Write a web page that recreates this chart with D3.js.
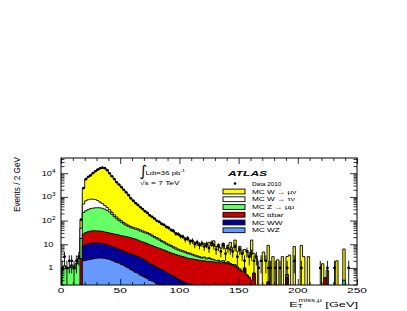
<!DOCTYPE html>
<html><head><meta charset="utf-8">
<script src="https://cdn.jsdelivr.net/npm/d3@7"></script>
<style>
body{margin:0;background:#fff}
svg{display:block}
text{font-family:"Liberation Sans",Arial,Helvetica,sans-serif;fill:#000}
</style>
</head><body>
<svg id="chart" width="407" height="311"></svg>
<script>
// ---- data: 2 GeV bins from 0 to 250 GeV (125 bins) ----
const binWidth = 2;
const xMax = 250;
const xTickLabels = ["0","50","100","150","200","250"];
const yTickValues = [1,10,100,1000,10000];

const mcWZ = [
0,0,0,0,0,0,0,0,0,
2.0,2.1,2.2,2.3,2.4,2.5,2.6,2.6,2.6,2.5,
2.4,2.3,2.1,1.9,1.7,1.6,1.4,1.3,1.1,1.0,
0.85,0.75,0.65,0.6,0.5,0.45,0.4,0.35,0.3,0.28,
0.25,0.22,0.2,0.18,
0,0,0,0,0,0,0,0,0,0,0,0,0,0,0,0,0,0,0,0,0,0,0,0,0,0,0,0,0,0,0,0,0,0,0,0,0,0,0,0,0,0,
0,0,0,0,0,0,0,0,0,0,0,0,0,0,0,0,0,0,0,0,0,0,0,0,0,0,0,0,0,0,0,0,0,0,0,0,0,0,0,0];

const mcWW = [
0,0,0,0,0,0,0,0,0,
6.5,7.4,8.3,8.7,8.8,8.8,8.6,8.4,8.0,7.5,
6.9,6.3,5.9,5.5,5.1,4.6,4.2,3.7,3.5,3.2,
3.05,2.85,2.65,2.4,2.2,1.95,1.7,1.45,1.2,1.07,
0.95,0.83,0.75,0.67,0.75,0.65,0.58,0.5,0.45,0.38,
0.33,0.3,0.27,0.24,0.22,0.2,
0,0,0,0,0,0,0,0,0,0,0,0,0,0,0,0,0,0,0,0,0,0,0,0,0,0,0,0,0,0,0,0,0,0,0,
0,0,0,0,0,0,0,0,0,0,0,0,0,0,0,0,0,0,0,0,0,0,0,0,0,0,0,0,0,0,0,0,0,0,0];

const mcTtbar = [
0,0,0,0,0,0,0,0,
2.5,
18.5,21.5,23.5,25,25.8,25.7,25.3,25,24.4,23,
22.2,21.4,20.5,19.6,19.2,18.3,17.4,17,16.4,15.8,
15.1,13.9,13.2,12,10.8,10.1,9.4,8.7,8,7.45,
6.8,6.25,5.85,5.35,4.95,4.55,4.12,3.8,3.55,3.32,
3.07,2.9,2.73,2.56,2.38,2.3,2.4,2.3,2.2,2.1,
2.0,2.0,1.9,1.9,1.85,1.8,1.7,1.8,1.6,1.7,
1.5,1.6,1.4,1.3,1.2,1.0,0.8,0.7,0.9,0.5,
0.4,0.3,0.6,0,0,0,0,0,0.26,0,
0,0,0,0,0,0,0.38,0,0,0,
0,0,0,0,0,0,0,0,0,0,
0,0,0.38,0,0,0,0,0,0,0,
0,0,0,0,0,0];

const mcZmumu = [
0.8,1.2,0.9,1.0,1.3,0.9,1.5,2.5,15,193,
229,256,284,298,308,313,309,295,272,238,
200,156,119,94,75,62,50,42,36,31,
28.5,26.5,25,22.5,20.5,18.5,17.5,15.5,13.2,11,
9.7,8.2,6.8,5.8,4.8,4.3,3.7,3,2.6,2.2,
2,1.8,1.6,1.4,1.3,1.1,0.9,0.8,0.7,0.6,
0.7,0.5,0.6,0.45,0.4,0.3,0.3,0.3,0.3,0.2,
0.2,0.15,0.1,0.15,0.1,0.1,0,0.1,0,0,
0,0,0,0,0,0,0,0,0,0,
0,0,0,0,0,0.15,0,0,0,0,
0,0,0,0,0,0,0,0,0,0,
0,0,0,0,0,0,0,0,0,0.3,
0,0,0,0,0];

const mcWtaunu = [
0,0,0,0,0,0,0,0,
30,
280,420,470,480,465,425,350,255,190,135,
90,60,40,29,22,17,14,11,9,8,
7,6,5.5,5,4.5,4,3.6,3.2,2.8,2.5,
2.2,2,1.8,1.6,1.4,1.2,1.1,1.0,0.9,0.8,
0.7,0.6,0.5,0.5,0.4,0.4,0.3,0.3,0.3,0.2,
0.2,0.2,0.2,0.2,0.1,0.1,
0,0,0,0,0,0,0,0,0,0,0,0,0,0,0,0,0,0,0,0,0,0,0,0,0,0,0,0,0,0,
0,0,0,0,0,0,0,0,0,0,0,0,0,0,0,0,0,0,0,0,0,0,0,0,0,0,0,0,0,0];

const mcWmunu = [
0,0,0,0,0,0,0,0,
60,
1800,4820,6240,7200,9200,11230,13300,15400,16480,16060,
13140,9710,7275,5425,4058,3183,2501,1917,1478,1136,
793,628,512,405,330,263,216,174,142,115,
97,81,69,59,51,45,38,32,27,23,
20,17,14.7,13.1,11.6,10.3,9.2,8.5,7.7,7,
6.7,8.1,5.4,9.3,6.6,11.7,5.9,7.8,5,8.9,
4.7,7.1,10.45,5.6,13.65,3.9,7.1,3.3,5,5,
2.6,14.7,3.4,2.5,0,0,4.7,2,8.7,0,
3,0,2.2,0,3,0,2.5,3.5,0,8,
0,0,9,3,0,3,0,0,0,0,
0,1.5,0,0.8,0,0,0,2,0,0,
6,0,0,0,0,0];

const data2010 = [
1,3,1,2,2,1,2,3,110,2350,
5600,7100,8100,10200,12100,14200,16100,17100,16400,13400,
9900,7450,5650,4150,3320,2580,2010,1560,1180,870,
690,550,460,365,305,245,210,165,142,120,
98,88,72,66,54,49,40,37,28,27,
22,21,16,18,13,14,10,12,9,11,
8,10,7,11,9,6,8,5,9,4,
7,6,5,8,3,6,4,2,5,3,
4,2,3,1,2,0,2,1,1,0,
1,0,1,0,0,1,0,0,2,0,
0,1,0,0,0,0,0,0,0,1,
0,0,1,0,0,1,0,0,0,0,
0,1,0,0,0];

// stacking order: bottom -> top
const seriesNames = ["MC WZ","MC WW","MC ttbar","MC Z \u2192 \u03bc\u03bc","MC W \u2192 \u03c4\u03bd","MC W \u2192 \u03bc\u03bd"];
const seriesValues = [mcWZ, mcWW, mcTtbar, mcZmumu, mcWtaunu, mcWmunu];
const seriesColors = ["#6699ff","#000099","#cc0000","#66ff66","#ffffff","#ffff00"];
const legendOrder = [5,4,3,2,1,0];

// ---- layout ----
const svg = d3.select("#chart");
const M = {l:61, r:357, t:158, b:285};
const x = d3.scaleLinear().domain([0, xMax]).range([M.l, M.r]);
const y = d3.scaleLog().domain([0.19, 44000]).range([M.b, M.t]).clamp(true);
const nBins = data2010.length;
const edges = d3.range(nBins + 1).map(i => i * binWidth);

svg.append("rect").attr("width",407).attr("height",311).attr("fill","#fff");
svg.append("clipPath").attr("id","clip").append("rect")
  .attr("x",M.l).attr("y",M.t).attr("width",M.r-M.l).attr("height",M.b-M.t);

// cumulative stacks
const cum = [];
seriesValues.forEach((vals, k) => {
  cum.push(vals.map((v, i) => v + (k ? cum[k-1][i] : 0)));
});

function stepPath(vals){
  const yb = M.b + 2;
  let p = `M${x(0)},${yb}`;
  vals.forEach((v, i) => {
    const yy = v > 0 ? y(v) : yb;
    p += `L${x(edges[i])},${yy}L${x(edges[i+1])},${yy}`;
  });
  p += `L${x(xMax)},${yb}Z`;
  return p;
}

const plot = svg.append("g").attr("clip-path","url(#clip)");
for (let k = seriesValues.length - 1; k >= 0; k--) {
  plot.append("path").attr("d", stepPath(cum[k]))
    .attr("fill", seriesColors[k]).attr("stroke","#000").attr("stroke-width",0.9)
    .attr("stroke-linejoin","miter");
}

// data points
const dg = plot.append("g");
data2010.forEach((n, i) => {
  if (n <= 0) return;
  const cx = x(edges[i] + binWidth/2);
  const e = Math.sqrt(n);
  dg.append("line").attr("x1",cx).attr("x2",cx)
    .attr("y1", n - e > 0 ? y(n - e) : M.b + 2).attr("y2", y(n + e))
    .attr("stroke","#000").attr("stroke-width",0.9);
  dg.append("line").attr("x1",x(edges[i])).attr("x2",x(edges[i+1]))
    .attr("y1",y(n)).attr("y2",y(n)).attr("stroke","#000").attr("stroke-width",0.9);
  dg.append("circle").attr("cx",cx).attr("cy",y(n)).attr("r",1.35).attr("fill","#000");
});

// ---- axes (ticks inward, mirrored) ----
const xMajor = d3.range(0, xMax + 1, 50);
const xMinor = d3.range(0, xMax + 1, 10).filter(v => v % 50 !== 0);
const yMinor = [];
[-1,0,1,2,3,4].forEach(d => { for (let k = 2; k <= 9; k++) { const v = k * Math.pow(10, d); if (v >= 0.19 && v <= 44000) yMinor.push(v); } });

function axisG(axis, tx, ty){
  const g = svg.append("g").attr("transform",`translate(${tx},${ty})`).call(axis);
  g.select(".domain").remove();
  g.selectAll("line").attr("stroke","#000").attr("stroke-width",0.8);
  g.selectAll("text").remove();
  return g;
}
axisG(d3.axisBottom(x).tickValues(xMajor).tickSize(-6), 0, M.b);
axisG(d3.axisBottom(x).tickValues(xMinor).tickSize(-3), 0, M.b);
axisG(d3.axisTop(x).tickValues(xMajor).tickSize(-6), 0, M.t);
axisG(d3.axisTop(x).tickValues(xMinor).tickSize(-3), 0, M.t);
axisG(d3.axisLeft(y).tickValues(yTickValues).tickSize(-7), M.l, 0);
axisG(d3.axisLeft(y).tickValues(yMinor).tickSize(-3.5), M.l, 0);
axisG(d3.axisRight(y).tickValues(yTickValues).tickSize(-7), M.r, 0);
axisG(d3.axisRight(y).tickValues(yMinor).tickSize(-3.5), M.r, 0);

svg.append("rect").attr("x",M.l).attr("y",M.t).attr("width",M.r-M.l).attr("height",M.b-M.t)
  .attr("fill","none").attr("stroke","#000").attr("stroke-width",1);

// stretched text helper
function stext(px, py, sx, size, anchor){
  return svg.append("text").attr("transform",`translate(${px},${py}) scale(${sx},1)`)
    .attr("font-size",size).attr("text-anchor",anchor);
}

// x tick labels
xMajor.forEach((v, i) => {
  stext(x(v), 292.5, 1.7, 7, "middle").text(xTickLabels[i]);
});
// y tick labels
yTickValues.forEach(v => {
  const p = Math.round(Math.log10(v));
  const t = stext(p >= 2 ? 55.5 : 53.5, y(v) + 2.3, 1.4, 6.6, "end");
  if (p < 2) t.text(String(v));
  else { t.append("tspan").text("10"); t.append("tspan").attr("dy",-2.8).attr("font-size",4.6).text(String(p)); }
});

// axis titles
svg.append("text").attr("transform","translate(19.5,157) rotate(-90)")
  .attr("font-size",8.2).attr("text-anchor","end").text("Events / 2 GeV");
const xt = stext(358, 306.5, 1.6, 8, "end");
xt.append("tspan").text("E");
xt.append("tspan").attr("font-size",5).attr("dy",1.8).text("T");
xt.append("tspan").attr("font-size",5).attr("dx",-2.6).attr("dy",-6).text("miss,\u03bc");
xt.append("tspan").attr("dy",4.2).text(" [GeV]");

// ATLAS + lumi
stext(228, 176, 1.5, 8, "start").attr("font-weight","bold").attr("font-style","italic").text("ATLAS");
svg.append("text").attr("x",139.5).attr("y",175.5).attr("font-size",15)
  .style("font-family","'DejaVu Sans'").text("\u222b");
const lu = stext(145.5, 175, 1.3, 6, "start");
lu.append("tspan").text("Ldt=36 pb");
lu.append("tspan").attr("font-size",4).attr("dy",-3).text("-1");
stext(140, 184.5, 1.4, 6, "start").text("\u221as = 7 TeV");

// legend
const legY0 = 183.5, legDy = 7.75;
svg.append("circle").attr("cx",235).attr("cy",legY0).attr("r",1.3).attr("fill","#000");
stext(252, legY0 + 2, 1.1, 5.8, "start").text("Data 2010");
legendOrder.forEach((k, j) => {
  const cy = legY0 + 8 + j * legDy;
  svg.append("rect").attr("x",223).attr("y",cy - 2.4).attr("width",22).attr("height",4.8)
    .attr("fill",seriesColors[k]).attr("stroke","#000").attr("stroke-width",0.9);
  stext(252, cy + 2, 1.42, 5.8, "start").text(seriesNames[k]);
});
</script>
</body></html>
